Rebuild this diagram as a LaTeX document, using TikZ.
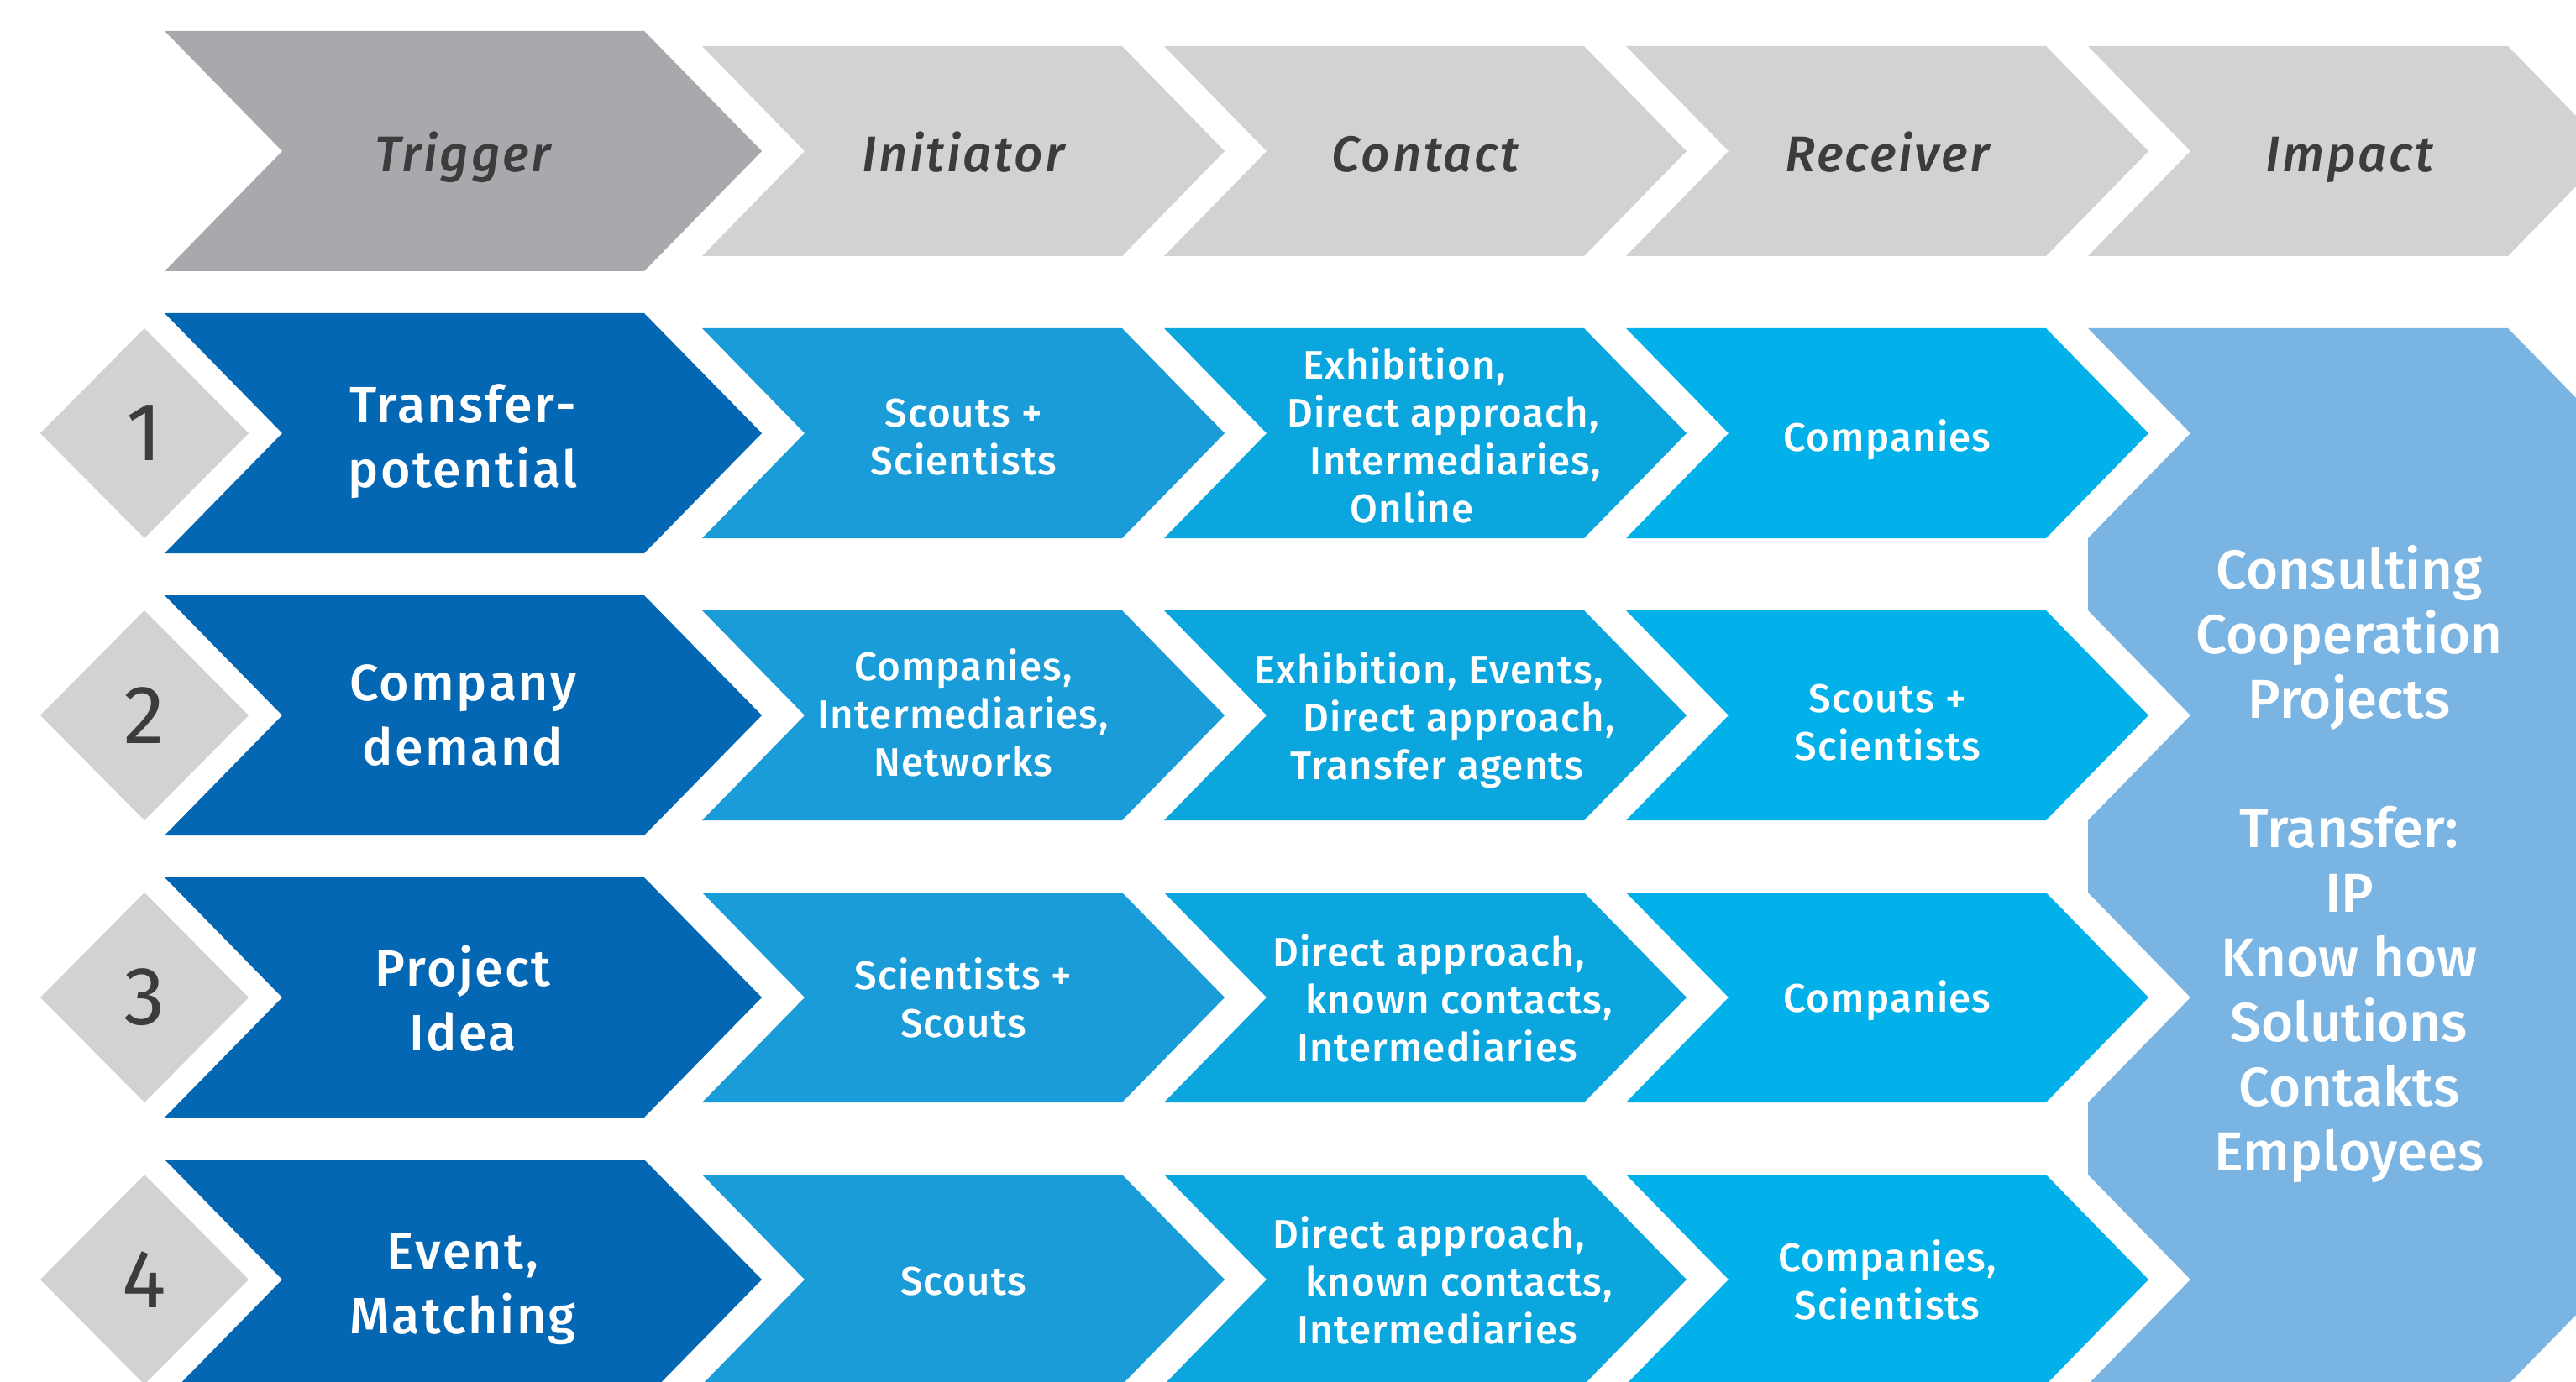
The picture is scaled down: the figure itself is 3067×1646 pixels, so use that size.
\documentclass[tikz,border=0pt]{standalone}
\usepackage{fontspec}
\setmainfont{Fira Sans Medium}[ItalicFont={Fira Sans Medium Italic}]
\newfontfamily\numfont{Fira Sans}
\begin{document}
\begin{tikzpicture}[x=0.01cm,y=-0.01cm]
\definecolor{hdrdark}{HTML}{A8A9AC}
\definecolor{hdrlight}{HTML}{D1D2D4}
\definecolor{txtgray}{HTML}{3C3C3C}
\definecolor{trigblue}{HTML}{0467B4}
\definecolor{initblue}{HTML}{1A9CD8}
\definecolor{contblue}{HTML}{0CA6DF}
\definecolor{recvblue}{HTML}{03B1EA}
\definecolor{impblue}{HTML}{79B4E3}
\tikzset{
  headtxt/.style={font=\fontsize{17}{20}\selectfont\itshape\addfontfeature{LetterSpace=4.5}, text=txtgray, inner sep=0pt, anchor=base},
  trigtxt/.style={font=\fontsize{17.3}{21.9}\selectfont\addfontfeature{LetterSpace=4}, text=white, align=center, inner sep=0pt},
  celltxt/.style={font=\fontsize{13.5}{16.2}\selectfont\addfontfeature{LetterSpace=2.5}, text=white, align=center, inner sep=0pt},
  imptxt/.style={font=\fontsize{18.6}{21.9}\selectfont, text=white, align=center, inner sep=0pt},
  numtxt/.style={font=\numfont\fontsize{28}{30}\selectfont, text=txtgray, inner sep=0pt},
}
% chevron: left x, middle y, body width, point depth, half height, colour
\newcommand{\chev}[6]{\fill[#6] (#1,#2-#5) -- (#1+#3,#2-#5) -- (#1+#3+#4,#2) -- (#1+#3,#2+#5) -- (#1,#2+#5) -- (#1+#4,#2) -- cycle;}
% a centred line moved sideways by #1 (mm)
\newcommand{\offln}[2]{\makebox[0pt][c]{\hspace*{#1mm}\hspace*{#1mm}#2}}

\useasboundingbox (0,0) rectangle (3067,1646);
\clip (0,0) rectangle (3067,1646);
\fill[white] (0,0) rectangle (3067,1646);

% header row
\chev{196}{180}{571}{140}{143}{hdrdark}
\foreach \lx in {836,1386,1936,2486}{\chev{\lx}{180}{500}{122}{125}{hdrlight}}

% impact block
\fill[impblue] (2486,391) -- (2986,391) -- (3600,1020) -- (2986,1649) -- (2486,1649)
  -- (2608,1524) -- (2486,1399) -- (2486,1313) -- (2608,1188) -- (2486,1063)
  -- (2486,977) -- (2608,852) -- (2486,727) -- (2486,641) -- (2608,516) -- cycle;

% rows
\foreach \my in {516,852,1188,1524}{
  \fill[hdrlight] (48,\my) -- (172,\my-125) -- (296,\my) -- (172,\my+125) -- cycle;
  \chev{196}{\my}{571}{140}{143}{trigblue}
  \chev{836}{\my}{500}{122}{125}{initblue}
  \chev{1386}{\my}{500}{122}{125}{contblue}
  \chev{1936}{\my}{500}{122}{125}{recvblue}
}

% header labels
\node[headtxt] (hTrigger) at (551,205) {Trigger};
\node[headtxt] (hInitiator) at (1147,205) {Initiator};
\node[headtxt] (hContact) at (1697,205) {Contact};
\node[headtxt] (hReceiver) at (2247,205) {Receiver};
\node[headtxt] (hImpact) at (2797,205) {Impact};

% row numbers
\node[numtxt] (n1) at (172,516) {1};
\node[numtxt] (n2) at (172,852) {2};
\node[numtxt] (n3) at (172,1188) {3};
\node[numtxt] (n4) at (172,1524) {4};

% trigger column
\node[trigtxt] (t1) at (551,526) {Transfer-\\potential};
\node[trigtxt] (t2) at (551,852) {Company\\demand};
\node[trigtxt] (t3) at (551,1189) {Project\\Idea};
\node[trigtxt] (t4) at (551,1536) {Event,\\Matching};

% initiator column
\node[celltxt] (i1) at (1147,521) {Scouts +\\Scientists};
\node[celltxt] (i2) at (1147,849) {Companies,\\Intermediaries,\\Networks};
\node[celltxt] (i3) at (1147,1188) {Scientists +\\Scouts};
\node[celltxt] (i4) at (1147,1526) {Scouts};

% contact column
\node[celltxt] (c1) at (1700,518) {\offln{-2.8}{Exhibition,}\\\offln{1.8}{Direct approach,}\\\offln{3.3}{Intermediaries,}\\\offln{-1.9}{Online}};
\node[celltxt] (c2) at (1700,858) {\offln{0.1}{Exhibition, Events,}\\\offln{3.7}{Direct approach,}\\\offln{1.1}{Transfer agents}};
\node[celltxt] (c3) at (1700,1189) {\offln{0.1}{Direct approach,}\\\offln{3.7}{known contacts,}\\\offln{1.1}{Intermediaries}};
\node[celltxt] (c4) at (1700,1525) {\offln{0.1}{Direct approach,}\\\offln{3.7}{known contacts,}\\\offln{1.1}{Intermediaries}};

% receiver column
\node[celltxt] (r1) at (2247,524) {Companies};
\node[celltxt] (r2) at (2247,861) {Scouts +\\Scientists};
\node[celltxt] (r3) at (2247,1192) {Companies};
\node[celltxt] (r4) at (2247,1524) {Companies,\\Scientists};

% impact text
\node[imptxt] (imp) at (2797,1029) {Consulting\\Cooperation\\Projects\\[21.9pt]Transfer:\\IP\\Know how\\Solutions\\Contakts\\Employees};
\end{tikzpicture}
\end{document}
